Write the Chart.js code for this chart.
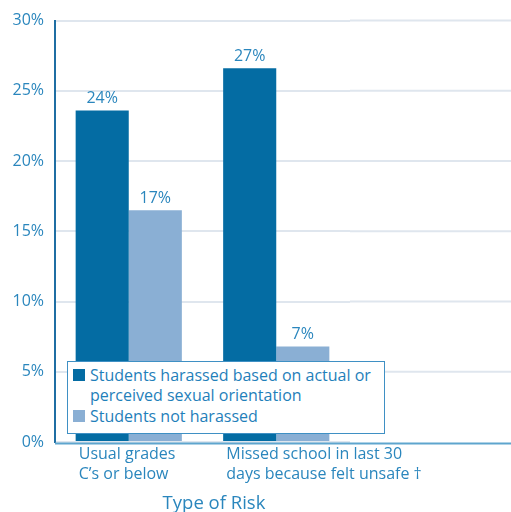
<!DOCTYPE html>
<html>
<head>
<meta charset="utf-8">
<script src="https://cdn.jsdelivr.net/npm/chart.js@4.4.1/dist/chart.umd.min.js"></script>
<style>
  html, body { margin: 0; padding: 0; background: #fff; }
  #wrap { position: relative; width: 511px; height: 512px; }
  #legend {
    position: absolute; left: 67px; top: 361px; width: 316px; height: 68px;
    border: 1.5px solid #3f90c4; background: #fff;
    font-family: 'Open Sans', sans-serif; font-size: 16px; color: #1f80ba;
    padding-top: 3px; box-sizing: content-box;
  }
  #legend .item { position: relative; padding-left: 22px; line-height: 20px; margin-bottom: 1px; width: 294px; white-space: normal; }
  #legend .box { position: absolute; left: 5px; top: 4px; width: 12px; height: 12px; }
</style>
</head>
<body>
<div id="wrap">
  <canvas id="risk" width="511" height="512"></canvas>
  <div id="legend"></div>
</div>
<script>
const categories = [
  ['Usual grades', 'C\u2019s or below'],
  ['Missed school in last 30', 'days because felt unsafe \u2020']
];
const seriesNames = [
  'Students harassed based on actual or perceived sexual orientation',
  'Students not harassed'
];
const harassed = [23.6, 26.6];
const notHarassed = [16.5, 6.8];
const yTicks = [0, 5, 10, 15, 20, 25, 30];
const axisTitle = 'Type of Risk';

const blueText = '#2a86bd';
const font = 'Open Sans';

// extends grid + base line to the right edge, writes the value labels and axis title
const extras = {
  id: 'extras',
  beforeDatasetsDraw(chart) {
    const { ctx, chartArea, scales } = chart;
    ctx.save();
    ctx.strokeStyle = '#dfe6ee';
    ctx.lineWidth = 2;
    yTicks.forEach(t => {
      if (t === 0) return;
      const y = scales.y.getPixelForValue(t);
      ctx.beginPath();
      ctx.moveTo(chartArea.right, y);
      ctx.lineTo(chart.width, y);
      ctx.stroke();
    });
    ctx.restore();
  },
  afterDatasetsDraw(chart) {
    const { ctx, chartArea } = chart;
    ctx.save();
    // base line under the bars
    ctx.strokeStyle = '#5ea5ce';
    ctx.lineWidth = 2;
    ctx.beginPath();
    ctx.moveTo(chartArea.left, chartArea.bottom + 1.5);
    ctx.lineTo(chart.width, chartArea.bottom + 1.5);
    ctx.stroke();

    ctx.font = '16px "' + font + '"';
    ctx.fillStyle = blueText;
    ctx.textAlign = 'center';
    ctx.textBaseline = 'bottom';
    chart.data.datasets.forEach((ds, i) => {
      chart.getDatasetMeta(i).data.forEach((bar, j) => {
        ctx.fillText(Math.round(ds.data[j]) + '%', bar.x, bar.y - 4);
      });
    });
    ctx.font = '18.5px "' + font + '"';
    ctx.textBaseline = 'middle';
    ctx.fillText(axisTitle, 214, 504);
    ctx.restore();
  },
  afterUpdate(chart) {
    const el = document.getElementById('legend');
    el.innerHTML = '';
    chart.data.datasets.forEach(ds => {
      const item = document.createElement('div');
      item.className = 'item';
      const box = document.createElement('span');
      box.className = 'box';
      box.style.background = ds.backgroundColor;
      item.appendChild(box);
      item.appendChild(document.createTextNode(ds.label));
      el.appendChild(item);
    });
  }
};

new Chart(document.getElementById('risk'), {
  type: 'bar',
  data: {
    labels: categories,
    datasets: [
      { label: seriesNames[0], data: harassed, backgroundColor: '#046ca3' },
      { label: seriesNames[1], data: notHarassed, backgroundColor: '#8aafd4' }
    ]
  },
  options: {
    responsive: false,
    devicePixelRatio: 1,
    animation: false,
    layout: { padding: { left: 11, right: 161, top: 14, bottom: 0 } },
    datasets: { bar: { categoryPercentage: 0.72, barPercentage: 1.0 } },
    plugins: { legend: { display: false }, tooltip: { enabled: false } },
    scales: {
      x: {
        grid: { display: false },
        border: { display: false },
        afterFit(scale) { scale.height = 70; },
        ticks: {
          align: 'start',
          labelOffset: -50,
          padding: -6,
          maxRotation: 0,
          minRotation: 0,
          autoSkip: false,
          color: blueText,
          font: { family: font, size: 16, lineHeight: 1.25 }
        }
      },
      y: {
        min: 0,
        max: 30,
        afterFit(scale) { scale.width = 44; },
        afterBuildTicks(scale) { scale.ticks = yTicks.map(v => ({ value: v })); },
        grid: { color: '#dfe6ee', lineWidth: 2, drawTicks: false },
        border: { color: '#1f6ea3', width: 2 },
        ticks: {
          padding: 11,
          color: blueText,
          font: { family: font, size: 16 },
          callback: v => v + '%'
        }
      }
    }
  },
  plugins: [extras]
});
</script>
</body>
</html>
